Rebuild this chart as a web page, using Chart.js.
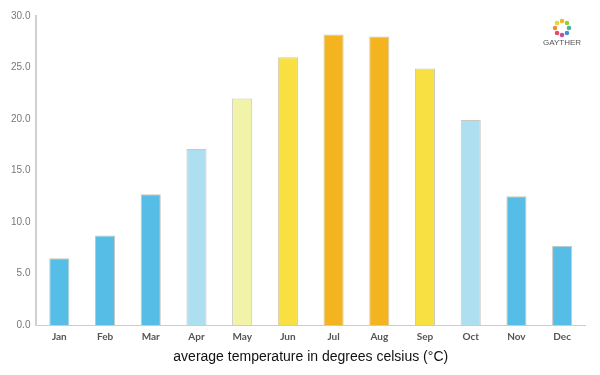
<!DOCTYPE html>
<html><head><meta charset="utf-8">
<script src="https://cdn.jsdelivr.net/npm/chart.js@4/dist/chart.umd.min.js"></script>
<style>html,body{margin:0;padding:0;background:#fff}#wrap{width:600px;height:375px;position:relative}</style>
</head><body><div id="wrap"><canvas id="c" width="600" height="375"></canvas></div>
<script>
const months = ['Jan','Feb','Mar','Apr','May','Jun','Jul','Aug','Sep','Oct','Nov','Dec'];
const temps = [6.5, 8.7, 12.7, 17.1, 22.0, 26.0, 28.2, 28.0, 24.9, 19.9, 12.5, 7.7];
const barColors = ['#56bde6','#56bde6','#56bde6','#aedff0','#f1f3a9','#f8e042','#f4b41f','#f4b41f','#f8e042','#aedff0','#56bde6','#56bde6'];
const yTicks = [0,5,10,15,20,25,30];
const xTitle = 'average temperature in degrees celsius (°C)';

const logo = {
  id:'logo',
  afterDraw(chart){
    const ctx = chart.ctx;
    const cx = 562, cy = 28, r = 7;
    const cols = ['#f4b41f','#9ccc3c','#3fb6a8','#4a8fd4','#c04fa0','#e84a5f','#f08a3c','#e8d13a'];
    for(let i=0;i<8;i++){
      const a = i*Math.PI/4 - Math.PI/2;
      ctx.fillStyle = cols[i];
      ctx.beginPath();
      ctx.arc(cx+r*Math.cos(a), cy+r*Math.sin(a), 2.3, 0, Math.PI*2);
      ctx.fill();
    }
    ctx.fillStyle = '#555';
    ctx.font = '8px "Liberation Sans", Arial, sans-serif';
    ctx.textAlign = 'center';
    ctx.textBaseline = 'middle';
    ctx.fillText('GAYTHER', cx, 43);
  }
};

new Chart(document.getElementById('c'), {
  type:'bar',
  data:{labels:months, datasets:[{data:temps, backgroundColor:barColors, borderColor:'#c8c8c0', borderWidth:1, barPercentage:0.44, categoryPercentage:1}]},
  options:{
    responsive:false, animation:false,
    layout:{padding:{top:16,right:15,left:5,bottom:5}},
    plugins:{legend:{display:false}, tooltip:{enabled:false}},
    scales:{
      x:{grid:{display:false, drawTicks:false}, border:{color:'#cccccc', width:1},
         ticks:{color:'#555', padding:6, font:{family:'Lato, sans-serif', size:10, weight:'bold'}},
         title:{display:true, text:xTitle, color:'#111', padding:{top:0}, font:{family:'"Liberation Sans", Arial, sans-serif', size:14}}},
      y:{min:0, max:30, afterBuildTicks(s){s.ticks = yTicks.map(v=>({value:v}));},
         grid:{display:false, drawTicks:false}, border:{color:'#d0d0d0', width:2},
         ticks:{color:'#777', padding:6, font:{family:'"Liberation Sans", Arial, sans-serif', size:10}, callback:v=>Number(v).toFixed(1)}}
    }
  },
  plugins:[logo]
});
</script></body></html>
